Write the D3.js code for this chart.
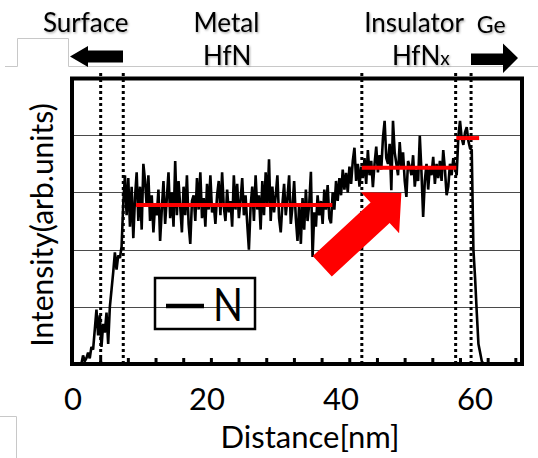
<!DOCTYPE html>
<html>
<head>
<meta charset="utf-8">
<script src="https://cdn.jsdelivr.net/npm/d3@7/dist/d3.min.js"></script>
<style>
  html, body { margin: 0; padding: 0; background: #fff; }
  svg { display: block; }
  text { font-family: Lato, "Open Sans", sans-serif; fill: #000; }
</style>
</head>
<body>
<svg id="chart" width="538" height="458"></svg>
<script>
// N depth profile sampled every 0.25 nm, starting at 1.25 nm
const sampleStartNm = 1.25;
const sampleStepNm = 0.25;
const intensityN = [
  0.0, 0.15, 0.05, 0.1, 0.2, 0.1, 0.3, 0.25, 0.6, 0.95, 0.5, 0.85, 0.3,
  0.7, 0.55, 0.9, 0.35, 1.0, 1.3, 1.6, 1.95, 1.65, 1.9, 1.85, 2.05, 2.8,
  3.3, 2.6, 3.25, 2.4, 3.1, 2.2, 2.9, 3.35, 2.5, 3.1, 2.35, 3.5,
  3.2, 2.75, 3.3, 2.5,
  2.95, 2.3, 2.8, 2.6,
  3.05, 2.15, 2.7, 3.2,
  2.45, 2.9, 3.35, 2.55,
  3.0, 2.4, 3.55, 2.6,
  3.2, 2.75, 2.3, 3.1,
  2.6, 3.3, 2.45, 2.1,
  2.85, 2.95, 2.5, 3.25,
  2.7, 3.35, 2.55, 2.9,
  2.4, 3.15, 2.7, 3.3,
  2.65, 2.8, 2.45, 2.95,
  3.2, 2.6, 3.35, 2.75,
  2.5, 3.05, 2.65, 2.85,
  2.4, 3.3, 2.7, 3.15,
  2.55, 2.85, 3.25, 2.6,
  2.95, 2.45, 2.0, 2.75,
  3.1, 2.5, 3.3, 2.7,
  2.95, 2.35, 3.2, 2.6,
  3.35, 2.75, 3.58, 2.5,
  3.1, 2.65, 2.95, 3.3,
  2.55, 2.3, 2.8, 3.15,
  2.6, 2.9, 3.3, 2.45,
  2.75, 3.2, 2.55, 2.15,
  2.8, 2.1, 2.9, 2.35,
  3.05, 2.5, 2.8, 3.36,
  1.87, 2.65, 2.4, 2.95,
  2.6, 2.85, 2.45, 3.05,
  2.7, 3.13, 2.55, 2.46,
  3.0, 2.7, 3.2, 2.85,
  3.25, 2.95, 3.4, 3.05,
  3.34, 3.0, 3.45, 3.15,
  3.55, 3.78, 3.2, 3.5,
  3.1, 3.45, 3.25, 3.6,
  3.15, 3.74, 3.3, 3.55,
  3.09, 3.5, 3.8, 3.35,
  3.65, 3.4, 3.95, 4.25,
  3.6, 3.5, 3.85, 3.04,
  4.25, 3.7, 3.5, 3.3,
  3.88, 3.45, 3.7, 3.2,
  2.92, 3.55, 3.45, 3.3,
  3.65, 3.1, 3.4, 3.2,
  3.99, 3.35, 2.57, 3.2,
  3.5, 3.05, 3.45, 3.3,
  3.62, 3.15, 3.5, 3.25,
  3.55, 3.2, 3.74, 3.4,
  2.95, 3.1, 3.5, 3.3,
  3.6, 3.45, 3.3, 3.97,
  4.25, 3.95, 3.83, 4.05,
  4.14, 3.9, 3.77, 3.74,
  2.0, 1.5, 0.9, 0.35,
  0.2, 0.05, 0.0, 0.0
];

// Axis setup
const xDomain = [0, 67];
const yDomain = [0, 5];
const xTickLabels = [0, 20, 40, 60];
const gridValues = [1, 2, 3, 4];
const minorTickStepNm = 4.13;
const minorTickCount = 16;

// Layer boundaries (dotted) and mean levels (red)
const boundariesNm = [4.13, 7.5, 43.1, 57.1, 59.4];
const levelStartNm = [9.4, 43.1, 57.2];
const levelEndNm = [38.7, 57.2, 60.6];
const levelValue = [2.78, 3.43, 3.95];

// Block arrow from the metal level up to the insulator level
const arrowTail = [37.2, 1.71];
const arrowTip = [49.0, 2.99];

// Region labels
const regionNames = ["Surface", "Metal", "Insulator", "Ge"];
const regionCenterNm = [1.9, 22.9, 50.9, 62.4];
const materialNames = ["HfN", "HfN"];
const materialCenterNm = [23.0, 51.9];
const seriesName = "N";

const svg = d3.select("#chart");
const x = d3.scaleLinear().domain(xDomain).range([73, 522]);
const y = d3.scaleLinear().domain(yDomain).range([364, 78]);

const defs = svg.append("defs");
const shadow = defs.append("filter").attr("id", "soft").attr("x", "-10%").attr("y", "-20%")
  .attr("width", "130%").attr("height", "150%");
shadow.append("feDropShadow").attr("dx", 1).attr("dy", 1.2).attr("stdDeviation", 1)
  .attr("flood-color", "#000").attr("flood-opacity", 0.35);

// light frame lines around the slide area
const deco = svg.append("g").attr("fill", "none").attr("stroke", "#c8c8c8").attr("stroke-width", 1);
deco.append("path").attr("d", "M5,66.5H17.5V38.5H68.5V66.5H538");
deco.append("path").attr("d", "M0,416.5H16.5V458");

// gridlines
svg.append("g").selectAll("line").data(gridValues).join("line")
  .attr("x1", x(xDomain[0]) - 1).attr("x2", x(xDomain[1]))
  .attr("y1", d => Math.round(y(d)) + 0.5).attr("y2", d => Math.round(y(d)) + 0.5)
  .attr("stroke", "#4a4a4a").attr("stroke-width", 1);

// minor ticks pointing inward from the bottom axis
const minorTicks = d3.range(1, minorTickCount + 1).map(k => k * minorTickStepNm);
svg.append("g").selectAll("line").data(minorTicks).join("line")
  .attr("x1", d => x(d)).attr("x2", d => x(d))
  .attr("y1", y(0)).attr("y2", y(0) - 6)
  .attr("stroke", "#000").attr("stroke-width", 3);

// dotted layer boundaries
svg.append("g").selectAll("line").data(boundariesNm).join("line")
  .attr("x1", d => x(d)).attr("x2", d => x(d))
  .attr("y1", 73).attr("y2", y(0))
  .attr("stroke", "#000").attr("stroke-width", 3).attr("stroke-dasharray", "3,3");

// N profile
const profile = intensityN.map((v, i) => [sampleStartNm + i * sampleStepNm, v]);
svg.append("path").datum(profile)
  .attr("fill", "none").attr("stroke", "#000").attr("stroke-width", 2.6)
  .attr("stroke-linejoin", "miter").attr("stroke-miterlimit", 3)
  .attr("d", d3.line().x(d => x(d[0])).y(d => y(d[1])));

// mean levels
svg.append("g").selectAll("line").data(levelValue).join("line")
  .attr("x1", (d, i) => x(levelStartNm[i])).attr("x2", (d, i) => x(levelEndNm[i]))
  .attr("y1", d => y(d)).attr("y2", d => y(d))
  .attr("stroke", "#ff0000").attr("stroke-width", 4);

// red block arrow
(function () {
  const tx = x(arrowTail[0]), ty = y(arrowTail[1]);
  const px = x(arrowTip[0]), py = y(arrowTip[1]);
  const len = Math.hypot(px - tx, py - ty);
  const ux = (px - tx) / len, uy = (py - ty) / len;
  const nx = -uy, ny = ux;
  const shaft = 14, head = 28, headLen = 29;
  const bx = px - ux * headLen, by = py - uy * headLen;
  const pts = [
    [tx + nx * shaft, ty + ny * shaft],
    [bx + nx * shaft, by + ny * shaft],
    [bx + nx * head, by + ny * head],
    [px, py],
    [bx - nx * head, by - ny * head],
    [bx - nx * shaft, by - ny * shaft],
    [tx - nx * shaft, ty - ny * shaft]
  ];
  svg.append("polygon").attr("points", pts.map(p => p.join(",")).join(" "))
    .attr("fill", "#ff0000");
})();

// plot frame
svg.append("rect")
  .attr("x", x(xDomain[0]) - 1).attr("y", y(yDomain[1]) + 0.5)
  .attr("width", x(xDomain[1]) - x(xDomain[0]) + 1).attr("height", y(0) - y(yDomain[1]) - 0.5)
  .attr("fill", "none").attr("stroke", "#000").attr("stroke-width", 4);

// legend
const lg = svg.append("g");
lg.append("rect").attr("x", 155).attr("y", 278).attr("width", 100).attr("height", 51)
  .attr("fill", "none").attr("stroke", "#000").attr("stroke-width", 2.5);
lg.append("line").attr("x1", 166).attr("x2", 204).attr("y1", 306).attr("y2", 306)
  .attr("stroke", "#000").attr("stroke-width", 4.5);
lg.append("text").attr("x", 213).attr("y", 321)
  .attr("font-family", "'Liberation Sans', Arial, sans-serif")
  .attr("font-size", 46).attr("textLength", 30).attr("lengthAdjust", "spacingAndGlyphs")
  .text(seriesName);

// x tick labels and title
svg.append("g").selectAll("text").data(xTickLabels).join("text")
  .attr("x", d => x(d)).attr("y", 410)
  .attr("text-anchor", "middle").attr("font-size", 31).text(d => d);
svg.append("text").attr("x", 310).attr("y", 448).attr("text-anchor", "middle")
  .attr("font-size", 31).text("Distance[nm]");

// y title
svg.append("text").attr("transform", "translate(53,225) rotate(-90)")
  .attr("text-anchor", "middle").attr("font-size", 30).text("Intensity(arb.units)");

// region labels above the frame
const headerLabels = svg.append("g").attr("filter", "url(#soft)");
headerLabels.selectAll("text.region").data(regionNames).join("text").attr("class", "region")
  .attr("x", (d, i) => x(regionCenterNm[i]))
  .attr("y", (d, i) => i === 3 ? 33 : 32)
  .attr("text-anchor", "middle")
  .attr("font-size", (d, i) => i === 3 ? 23 : 26)
  .text(d => d);
const mat = headerLabels.selectAll("text.mat").data(materialNames).join("text").attr("class", "mat")
  .attr("x", (d, i) => x(materialCenterNm[i])).attr("y", 65)
  .attr("text-anchor", "middle").attr("font-size", 26);
mat.append("tspan").text(d => d);
mat.filter((d, i) => i === 1).append("tspan").attr("font-size", 19).text("x");

// black direction arrows
const arrows = svg.append("g").attr("fill", "#000");
arrows.append("path").attr("d", "M70,56.5L88,46V50.5H123V62.5H88V67Z");
arrows.append("path").attr("d", "M518,58L503,43.5V53.5H471V65H503V73Z");
</script>
</body>
</html>
